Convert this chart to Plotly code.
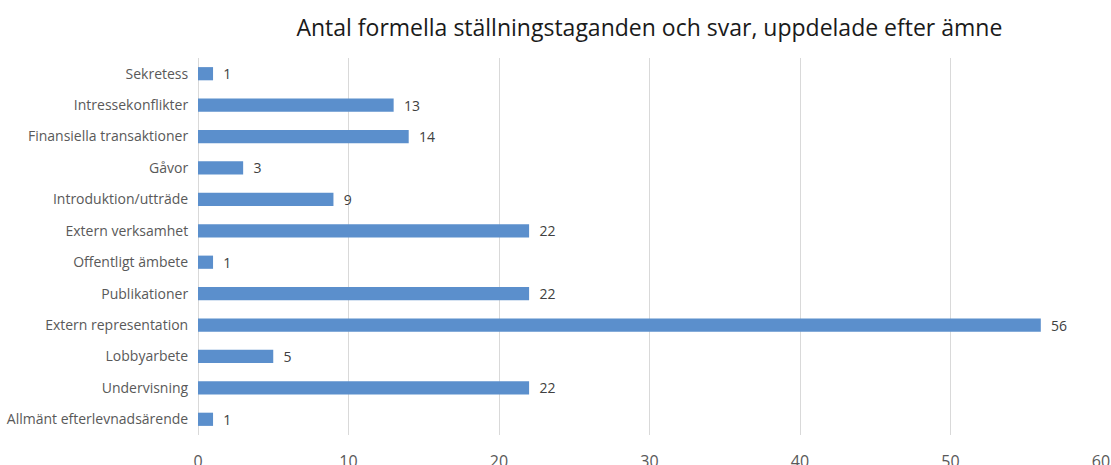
import plotly.graph_objects as go

categories = [
    "Sekretess",
    "Intressekonflikter",
    "Finansiella transaktioner",
    "Gåvor",
    "Introduktion/utträde",
    "Extern verksamhet",
    "Offentligt ämbete",
    "Publikationer",
    "Extern representation",
    "Lobbyarbete",
    "Undervisning",
    "Allmänt efterlevnadsärende",
]
values = [1, 13, 14, 3, 9, 22, 1, 22, 56, 5, 22, 1]
x_ticks = [0, 10, 20, 30, 40, 50, 60]

fig = go.Figure(
    go.Bar(
        x=values,
        y=categories,
        orientation="h",
        marker=dict(color="#5B8FCC", line=dict(width=0)),
        text=["  " + str(v) for v in values],
        textposition="outside",
        constraintext="none",
        textfont=dict(family="Open Sans", size=14, color="#404040"),
        cliponaxis=False,
    )
)

fig.update_layout(
    width=1111,
    height=465,
    margin=dict(l=198, r=10, t=58, b=30, autoexpand=False),
    paper_bgcolor="white",
    plot_bgcolor="white",
    bargap=0.58,
    showlegend=False,
    title=dict(
        text="Antal formella ställningstaganden och svar, uppdelade efter ämne",
        font=dict(family="Open Sans", size=23, color="#1a1a1a"),
        x=0.5845,
        xanchor="center",
        y=0.94,
        yanchor="middle",
    ),
    font=dict(family="Open Sans"),
)

fig.update_xaxes(
    range=[0, 60],
    tickvals=x_ticks,
    automargin=False,
    showgrid=True,
    gridcolor="#d9d9d9",
    gridwidth=1,
    zeroline=True,
    zerolinecolor="#d9d9d9",
    zerolinewidth=1,
    ticks="outside",
    ticklen=12,
    tickcolor="rgba(0,0,0,0)",
    tickfont=dict(family="Open Sans", size=16, color="#595959"),
)

fig.update_yaxes(
    categoryorder="array",
    categoryarray=categories[::-1],
    automargin=False,
    showgrid=False,
    ticks="outside",
    ticklen=6,
    tickcolor="rgba(0,0,0,0)",
    tickfont=dict(family="Open Sans", size=14, color="#595959"),
)

fig.write_html("out.html")
